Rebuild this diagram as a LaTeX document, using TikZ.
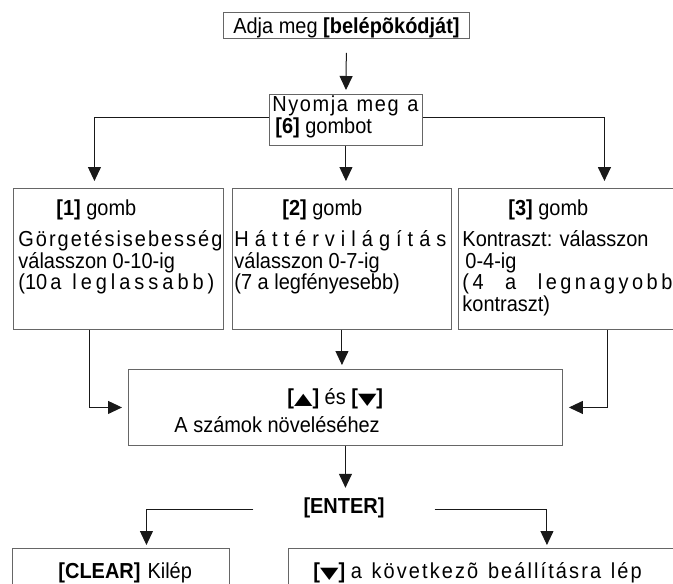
\documentclass[tikz,border=0pt]{standalone}
\usepackage{fontspec}
\setmainfont{Liberation Sans}[FakeStretch=0.92]
\newfontfamily\trifont{DejaVu Sans}[FakeStretch=1.5]
\usetikzlibrary{arrows.meta}

% letter spaced text of a given width
\newcommand\spreadbox[2]{\makebox[#1][s]{\spreadloop#2\spreadend\hskip0pt plus -1fil\relax}}
\def\spreadend{}
\def\spreadloop#1{\ifx#1\spreadend\else#1\hskip0pt plus1fil\relax\expandafter\spreadloop\fi}
\newcommand\up{{\trifont\fontsize{16pt}{21.6pt}\selectfont ▲}}
\newcommand\down{{\trifont\fontsize{16pt}{21.6pt}\selectfont ▼}}

\tikzset{
  box/.style={draw=black!60, line width=0.9pt, inner sep=0pt, anchor=north west},
  conn/.style={draw=black!90, line width=1pt},
  arr/.style={conn, -{Triangle[length=14pt,width=13pt]}},
}

\begin{document}
\begin{tikzpicture}[x=1pt, y=1pt, font=\fontsize{21.7pt}{21.6pt}\selectfont]
  \useasboundingbox (0,0) rectangle (673,-584);

  % boxes
  \node[box] (code) at (223,-12) {\parbox[t][26pt][t]{246pt}{\centering\rule{0pt}{21.5pt}Adja meg \textbf{[belépõkódját]}}};
  \node[box] (key6) at (269,-94) {\parbox[t][51pt][t]{153pt}{\setlength\leftskip{3pt}\rule{0pt}{17.5pt}\spreadbox{146pt}{Nyomja~meg~a}\\
      \hspace*{3pt}\textbf{[6]} gombot}};

  \node[box] (b1) at (13,-188) {\parbox[t][141pt][t]{210pt}{\setlength\leftskip{5pt}\rule{0pt}{27pt}\hspace*{38pt}\textbf{[1]} gomb\\[9.5pt]
      \spreadbox{204pt}{Görgetésisebesség}\\
      válasszon 0-10-ig\\
      (10\hspace{3pt}a\hspace{11pt}\spreadbox{142pt}{leglassabb)}}};
  \node[box] (b2) at (232,-188) {\parbox[t][141pt][t]{219pt}{\setlength\leftskip{2pt}\rule{0pt}{27pt}\hspace*{48pt}\textbf{[2]} gomb\\[9.5pt]
      \spreadbox{212pt}{Háttérvilágítás}\\
      válasszon 0-7-ig\\
      (7 a legfényesebb)}};
  \node[box] (b3) at (458,-188) {\parbox[t][141pt][t]{217pt}{\setlength\leftskip{4pt}\rule{0pt}{27pt}\hspace*{46pt}\textbf{[3]} gomb\\[9.5pt]
      Kontraszt: válasszon\\
      \hspace*{3pt}0-4-ig\\
      \spreadbox{210pt}{(4~~a~~legnagyobb}\\
      kontraszt)}};

  \node[box] (mid) at (128,-369) {\parbox[t][76pt][t]{434pt}{\rule{0pt}{35pt}\hspace*{159pt}\textbf{[\up]} és \textbf{[\down]}\\[6.4pt]
      \hspace*{46pt}A számok növeléséhez}};
  \node[inner xsep=50pt, inner ysep=0pt, text height=12pt, text depth=4pt, anchor=base] (enter) at (344,-513) {\textbf{[ENTER]}};

  \node[box] (clr) at (12,-548) {\parbox[t][45pt][t]{217pt}{\rule{0pt}{30pt}\hspace*{46pt}\textbf{[CLEAR]}\hspace{7pt}Kilép}};
  \node[box] (nxt) at (288,-548) {\parbox[t][45pt][t]{387pt}{\rule{0pt}{30pt}\hspace*{25pt}\textbf{[\down]} \spreadbox{291pt}{a~következõ~beállításra~lép}}};

  % connectors
  \draw[arr, shorten <=14pt, shorten >=4pt] (code.south) -- (key6.north);
  \draw[arr, shorten >=7pt] ([yshift=2.5pt]key6.west) -| ([xshift=-24pt]b1.north);
  \draw[arr, shorten >=7pt] (key6.south) -- (key6.south |- b2.north);
  \draw[arr, line width=1.4pt, shorten >=7pt] ([yshift=2.5pt]key6.east) -| ([xshift=37.5pt]b3.north);

  \draw[arr, shorten >=6pt] ([xshift=-29pt]b1.south) |- (mid.west);
  \draw[arr, shorten >=4pt] (b2.south) -- (b2.south |- mid.north);
  \draw[arr, shorten >=6pt] ([xshift=41pt]b3.south) |- (mid.east);

  \draw[arr, shorten >=13pt] (mid.south) -- (mid.south |- enter.north);
  \draw[arr, shorten >=3pt] (enter.west) -| ([xshift=25.5pt]clr.north);
  \draw[arr, shorten >=3pt] (enter.east) -| ([xshift=65pt]nxt.north);
\end{tikzpicture}
\end{document}
